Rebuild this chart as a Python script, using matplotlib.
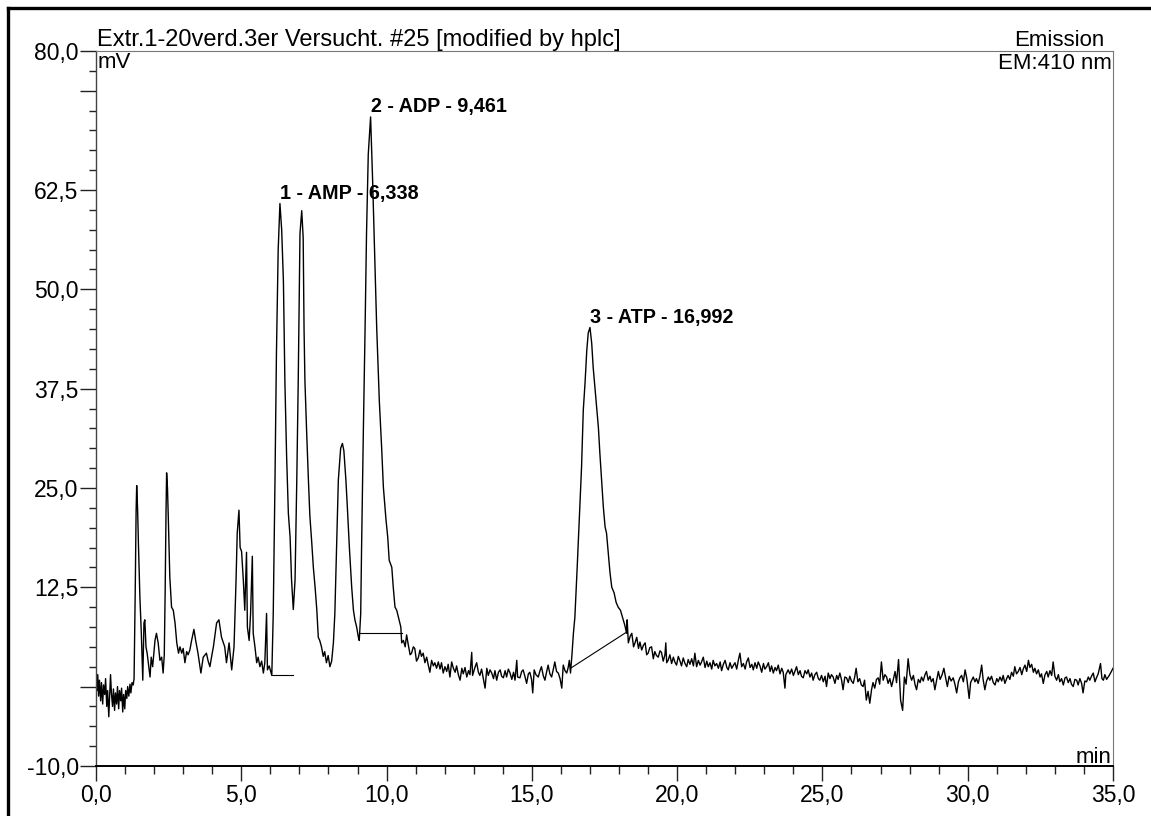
import matplotlib
matplotlib.use("Agg")
import matplotlib.pyplot as plt
from matplotlib.lines import Line2D
from matplotlib.ticker import FixedLocator, FixedFormatter, MultipleLocator

# ----------------------------
# Data
# ----------------------------

# (time [min], signal [mV]) per stretch of the trace
lead = [
    (0.00, 3.0), (0.03, -0.5), (0.06, 1.5), (0.09, -1.2), (0.12, 0.8), (0.16, -1.8),
    (0.19, 0.5), (0.23, -2.2), (0.26, 0.2), (0.30, -1.0), (0.33, 1.0), (0.37, -2.5),
    (0.40, -0.5), (0.44, -3.8), (0.47, -1.0), (0.50, 1.5), (0.53, -0.8), (0.57, -2.5),
    (0.60, -0.3), (0.64, -3.0), (0.67, -0.8), (0.71, -2.2), (0.74, 0.0), (0.78, -2.8),
    (0.81, -0.5), (0.85, -1.8), (0.88, -0.2), (0.92, -3.2), (0.95, -1.0), (0.99, -2.8),
    (1.02, -0.5), (1.06, -1.5), (1.09, 0.0), (1.13, -1.2), (1.17, 0.3), (1.20, -0.8),
    (1.24, 0.5), (1.28, 0.2), (1.31, 1.0),
]

early = [
    (1.35, 12.0), (1.38, 22.0), (1.40, 25.3), (1.43, 22.5), (1.46, 18.0), (1.51, 11.3),
    (1.56, 6.7), (1.61, 0.8), (1.65, 8.0), (1.68, 8.4), (1.72, 5.0), (1.76, 4.2),
    (1.80, 3.0), (1.86, 1.2), (1.90, 3.7), (1.95, 2.5), (2.00, 4.6), (2.03, 5.8),
    (2.08, 6.7), (2.14, 5.5), (2.20, 3.3), (2.26, 3.7), (2.31, 1.7), (2.35, 4.0),
    (2.38, 12.0), (2.41, 22.0), (2.43, 26.9), (2.46, 25.0), (2.49, 21.0), (2.54, 13.8),
    (2.60, 10.0), (2.66, 9.6), (2.72, 8.0), (2.78, 5.5), (2.84, 4.2), (2.89, 5.0),
    (2.95, 4.2), (3.00, 4.8), (3.06, 3.0), (3.12, 4.4), (3.17, 4.0), (3.23, 4.6),
    (3.29, 5.8), (3.37, 7.2), (3.43, 5.8), (3.51, 4.2), (3.61, 1.7), (3.69, 3.7),
    (3.80, 4.2), (3.86, 3.2), (3.92, 2.5), (3.98, 3.8), (4.04, 5.0), (4.15, 8.0),
    (4.23, 8.4), (4.32, 6.2), (4.43, 5.0), (4.49, 3.0), (4.58, 5.5), (4.67, 2.1),
    (4.75, 5.0), (4.82, 13.4), (4.86, 19.3), (4.92, 22.2), (4.96, 17.5), (5.01, 17.0),
    (5.07, 13.4), (5.12, 9.6), (5.18, 16.9), (5.21, 7.5), (5.27, 5.8), (5.32, 9.2),
    (5.38, 16.4), (5.41, 6.7), (5.47, 5.0), (5.53, 3.0), (5.58, 3.7), (5.64, 2.5),
    (5.70, 3.2), (5.76, 1.7), (5.81, 3.0), (5.87, 9.2), (5.90, 2.1), (5.96, 2.6),
    (6.05, 1.4),
]

amp_adp = [
    (6.10, 9.2), (6.16, 26.0), (6.21, 42.0), (6.27, 55.0), (6.33, 60.8), (6.39, 57.5),
    (6.45, 51.0), (6.50, 38.5), (6.56, 29.0), (6.62, 21.8), (6.68, 18.8), (6.73, 13.4),
    (6.79, 9.7), (6.85, 13.4), (6.91, 26.0), (6.96, 38.5), (7.02, 57.0), (7.08, 59.9),
    (7.13, 56.5), (7.16, 45.0), (7.19, 38.5), (7.25, 32.0), (7.31, 26.0), (7.36, 21.5),
    (7.42, 18.4), (7.48, 15.0), (7.54, 12.5), (7.60, 9.6), (7.65, 6.2), (7.70, 5.8),
    (7.76, 5.0), (7.82, 3.8), (7.87, 4.4), (7.93, 3.0), (7.99, 3.9), (8.05, 2.5),
    (8.11, 3.2), (8.17, 5.5), (8.22, 9.2), (8.28, 17.5), (8.34, 26.0), (8.42, 30.0),
    (8.48, 30.6), (8.53, 29.7), (8.60, 26.0), (8.65, 22.6), (8.72, 17.5), (8.80, 12.5),
    (8.86, 9.6), (8.91, 8.4), (8.97, 7.5), (9.03, 6.2), (9.06, 5.8), (9.11, 9.2),
    (9.14, 17.5), (9.20, 32.0), (9.26, 45.0), (9.31, 57.0), (9.37, 67.0), (9.45, 71.7),
    (9.52, 63.7), (9.60, 53.3), (9.66, 45.2), (9.75, 36.0), (9.83, 30.1), (9.89, 25.1),
    (9.98, 21.0), (10.04, 18.8), (10.09, 15.9), (10.18, 15.0), (10.23, 12.5), (10.29, 10.0),
    (10.35, 9.6), (10.41, 8.7), (10.49, 7.5), (10.52, 5.5), (10.58, 5.8), (10.64, 5.0),
    (10.69, 6.5), (10.75, 5.2), (10.81, 4.0), (10.86, 4.2), (10.92, 5.0), (10.97, 4.8),
]

mid = [
    (11.03, 3.2), (11.09, 3.6), (11.15, 4.6), (11.20, 3.8), (11.26, 4.2), (11.32, 3.0),
    (11.38, 3.7), (11.43, 2.8), (11.49, 1.8), (11.55, 3.3), (11.61, 2.6), (11.66, 3.0),
    (11.72, 2.3), (11.78, 3.1), (11.84, 2.2), (11.89, 3.0), (11.95, 1.7), (12.01, 2.5),
    (12.07, 1.9), (12.12, 2.8), (12.18, 1.2), (12.24, 3.1), (12.30, 2.3), (12.36, 1.8),
    (12.41, 2.6), (12.47, 1.5), (12.53, 0.8), (12.59, 2.3), (12.64, 1.6), (12.70, 2.4),
    (12.76, 1.2), (12.82, 2.0), (12.87, 1.5), (12.93, 4.3), (12.96, 1.4), (13.04, 2.4),
    (13.10, 3.0), (13.16, 1.8), (13.21, 1.4), (13.27, 2.2), (13.33, 1.0), (13.39, -0.2),
    (13.45, 2.3), (13.50, 1.4), (13.56, 2.1), (13.62, 1.7), (13.68, 1.0), (13.73, 2.0),
    (13.79, 0.8), (13.85, 1.8), (13.91, 2.1), (13.96, 1.3), (14.02, 1.1), (14.08, 2.0),
    (14.13, 1.2), (14.19, 2.2), (14.25, 1.7), (14.31, 0.9), (14.37, 1.8), (14.42, 0.8),
    (14.48, 3.3), (14.51, 1.2), (14.59, 1.1), (14.65, 1.9), (14.70, 2.1), (14.76, 1.3),
    (14.82, 0.4), (14.88, 1.6), (14.93, 1.8), (14.99, 0.9), (15.03, -0.8), (15.08, 2.1),
    (15.14, 1.5), (15.22, 1.2), (15.28, 2.0), (15.33, 2.5), (15.39, 1.4), (15.45, 0.8),
    (15.51, 1.9), (15.56, 2.7), (15.62, 1.6), (15.68, 1.2), (15.74, 2.2), (15.79, 3.1),
    (15.85, 1.9), (15.91, 1.7), (15.97, 1.0), (16.03, -0.2), (16.08, 2.7), (16.14, 2.0),
    (16.20, 1.7), (16.25, 2.4), (16.29, 3.3), (16.33, 1.7),
]

atp = [
    (16.38, 4.0), (16.43, 6.7), (16.48, 8.7), (16.56, 15.0), (16.66, 23.5), (16.71, 27.6),
    (16.77, 34.8), (16.83, 38.2), (16.89, 42.3), (16.94, 44.5), (17.00, 45.2), (17.06, 43.2),
    (17.11, 40.2), (17.21, 36.0), (17.29, 32.6), (17.34, 29.4), (17.40, 26.0), (17.46, 22.6),
    (17.52, 20.1), (17.57, 19.3), (17.63, 16.8), (17.69, 14.3), (17.75, 12.5), (17.83, 11.8),
    (17.90, 10.6), (17.97, 10.0), (18.05, 9.6), (18.12, 8.7), (18.20, 7.7), (18.26, 6.7),
    (18.28, 8.4), (18.32, 5.5), (18.38, 6.3), (18.44, 6.7), (18.50, 5.0), (18.55, 5.5),
    (18.61, 6.2), (18.67, 4.8), (18.72, 5.6), (18.78, 4.6), (18.84, 5.2), (18.90, 5.5),
    (18.95, 4.0), (19.00, 4.2), (19.06, 4.9), (19.12, 5.0), (19.18, 3.5), (19.23, 4.4),
    (19.29, 3.9), (19.35, 3.7), (19.41, 4.5), (19.46, 4.3), (19.52, 3.2), (19.58, 4.0),
    (19.61, 5.5), (19.64, 3.0), (19.69, 3.3), (19.75, 4.0), (19.81, 2.9), (19.87, 3.7),
    (19.92, 3.1), (19.98, 2.7),
]

tail = [
    (20.04, 3.8), (20.10, 3.2), (20.15, 2.6), (20.21, 3.6), (20.27, 2.9), (20.33, 2.5),
    (20.38, 3.4), (20.44, 2.8), (20.50, 3.5), (20.56, 2.6), (20.61, 4.2), (20.67, 2.5),
    (20.73, 3.3), (20.79, 2.7), (20.84, 3.1), (20.90, 3.7), (20.96, 2.4), (21.02, 3.2),
    (21.07, 2.5), (21.13, 3.0), (21.19, 2.2), (21.24, 3.3), (21.30, 2.6), (21.36, 2.9),
    (21.42, 2.3), (21.48, 3.1), (21.53, 2.0), (21.59, 2.8), (21.65, 3.3), (21.71, 2.4),
    (21.76, 2.1), (21.82, 3.0), (21.88, 2.3), (21.94, 2.7), (21.99, 3.0), (22.05, 2.2),
    (22.11, 3.4), (22.16, 4.2), (22.22, 2.5), (22.28, 2.9), (22.34, 2.2), (22.39, 3.1),
    (22.45, 3.6), (22.51, 2.4), (22.57, 2.8), (22.62, 2.1), (22.68, 3.0), (22.74, 2.3),
    (22.79, 3.1), (22.85, 2.6), (22.91, 1.8), (22.97, 2.9), (23.02, 2.2), (23.08, 2.5),
    (23.14, 3.0), (23.20, 1.9), (23.25, 2.6), (23.31, 1.7), (23.37, 2.4), (23.42, 2.0),
    (23.48, 2.7), (23.54, 1.6), (23.60, 2.3), (23.65, 1.8), (23.71, -0.2), (23.74, 1.5),
    (23.82, 2.1), (23.88, 1.6), (23.94, 2.2), (24.00, 1.4), (24.05, 1.9), (24.11, 2.5),
    (24.17, 1.5), (24.23, 2.0), (24.28, 1.3), (24.34, 1.1), (24.40, 2.0), (24.46, 1.6),
    (24.51, 2.1), (24.57, 1.2), (24.63, 1.7), (24.68, 0.8), (24.74, 1.5), (24.80, 1.8),
    (24.86, 1.0), (24.91, 0.8), (24.97, 1.4), (25.03, 0.6), (25.09, 1.3), (25.14, 0.0),
    (25.20, 1.7), (25.26, 1.0), (25.31, 1.5), (25.37, 1.2), (25.43, 0.4), (25.49, 1.4),
    (25.54, 0.9), (25.60, 1.7), (25.66, 0.8), (25.71, -0.4), (25.77, 1.2), (25.83, 1.1),
    (25.89, 0.5), (25.94, 1.3), (26.00, 0.7), (26.06, 0.4), (26.11, 1.2), (26.16, 2.3),
    (26.22, 0.6), (26.28, 1.0), (26.34, 0.2), (26.40, 0.0), (26.45, 0.8), (26.51, -1.7),
    (26.57, -0.6), (26.63, -2.1), (26.69, -0.4), (26.74, 0.5), (26.80, -0.2), (26.86, 0.9),
    (26.92, 1.1), (26.97, 0.3), (27.03, 3.1), (27.09, 0.8), (27.15, 1.5), (27.21, 1.2),
    (27.26, 0.4), (27.32, 1.0), (27.38, 0.0), (27.44, 0.9), (27.50, 1.9), (27.55, 0.5),
    (27.62, 3.4), (27.69, -1.7), (27.76, -3.0), (27.82, 1.2), (27.88, 0.3), (27.95, 3.5),
    (28.01, 1.5), (28.07, 0.8), (28.13, 1.4), (28.19, 0.2), (28.24, -0.4), (28.30, 0.9),
    (28.36, 0.5), (28.41, 1.2), (28.47, 0.7), (28.53, 1.5), (28.58, 1.9), (28.64, 0.8),
    (28.70, 1.3), (28.75, 0.6), (28.81, 1.0), (28.87, -0.4), (28.93, 0.8), (28.99, 1.9),
    (29.05, 0.9), (29.12, 1.5), (29.18, 2.3), (29.24, 1.1), (29.30, 0.0), (29.36, 1.3),
    (29.43, 0.7), (29.50, 1.1), (29.56, 0.3), (29.62, -0.8), (29.68, 0.6), (29.73, 1.1),
    (29.79, 1.4), (29.85, 0.6), (29.91, 2.1), (29.97, 1.0), (30.05, -1.5), (30.10, 0.5),
    (30.19, 1.2), (30.25, 0.6), (30.30, 1.0), (30.36, 0.4), (30.42, 1.3), (30.48, 2.7),
    (30.53, 0.9), (30.59, -0.4), (30.65, 0.7), (30.71, 1.2), (30.76, 0.8), (30.82, 1.3),
    (30.88, 0.5), (30.94, 0.2), (31.00, 1.0), (31.05, 0.6), (31.11, 1.2), (31.17, 0.7),
    (31.22, 1.4), (31.28, 0.4), (31.34, 1.0), (31.39, 1.4), (31.45, 0.9), (31.51, 1.8),
    (31.57, 1.3), (31.62, 2.5), (31.68, 1.6), (31.74, 1.9), (31.80, 2.4), (31.86, 1.5),
    (31.91, 2.2), (31.97, 2.7), (32.03, 1.9), (32.09, 3.3), (32.14, 2.4), (32.20, 2.8),
    (32.26, 1.8), (32.31, 2.3), (32.37, 1.6), (32.43, 2.1), (32.49, 1.2), (32.54, 1.6),
    (32.60, 0.4), (32.66, 1.5), (32.72, 1.9), (32.77, 1.2), (32.83, 2.0), (32.89, 1.4),
    (32.94, 3.1), (33.00, 1.3), (33.06, 0.8), (33.12, 1.5), (33.17, 0.6), (33.23, 1.0),
    (33.29, 0.2), (33.35, 1.1), (33.40, 1.2), (33.46, 0.5), (33.52, 1.0), (33.57, 0.3),
    (33.63, 0.0), (33.69, 0.9), (33.75, 0.8), (33.80, 0.2), (33.86, 1.0), (33.92, 0.4),
    (33.97, -0.8), (34.03, 0.7), (34.09, 0.6), (34.15, 1.2), (34.20, 0.8), (34.26, 1.3),
    (34.32, 1.7), (34.38, 0.6), (34.43, 1.1), (34.49, 1.6), (34.57, 2.9), (34.62, 1.0),
    (34.67, 0.8), (34.72, 1.5), (34.78, 0.9), (34.87, 1.4), (34.93, 1.8), (35.00, 2.3),
]

# identified peaks: label, retention time [min], apex height [mV]
peak_names = ["1 - AMP - 6,338", "2 - ADP - 9,461", "3 - ATP - 16,992"]
peak_rt = [6.33, 9.45, 17.00]
peak_height = [60.8, 71.7, 45.2]

# integration baselines: (t_start, mv_start, t_end, mv_end)
baselines = [
    (6.05, 1.5, 6.79, 1.5),
    (9.08, 6.7, 10.52, 6.7),
    (16.33, 2.3, 18.28, 6.9),
]

y_major = [-10, 0, 12.5, 25, 37.5, 50, 62.5, 75, 80]
y_labels = ["-10,0", "", "12,5", "25,0", "37,5", "50,0", "62,5", "", "80,0"]
x_major = [0, 5, 10, 15, 20, 25, 30, 35]
x_labels = ["0,0", "5,0", "10,0", "15,0", "20,0", "25,0", "30,0", "35,0"]

# ----------------------------
# Plot
# ----------------------------

plt.rcParams["font.family"] = ["Liberation Sans", "DejaVu Sans"]

trace = lead + early + amp_adp + mid + atp + tail
t = [p[0] for p in trace]
mv = [p[1] for p in trace]

fig = plt.figure(figsize=(11.51, 8.16), dpi=100)
ax = fig.add_axes([96 / 1151, 50 / 816, 1017 / 1151, 715 / 816])

ax.plot(t, mv, color="black", lw=1.0)

for t0, v0, t1, v1 in baselines:
    ax.plot([t0, t1], [v0, v1], color="black", lw=0.8)

for name, rt, h in zip(peak_names, peak_rt, peak_height):
    ax.annotate(name, (rt, h), xytext=(0, 3.5), textcoords="offset points",
                ha="left", va="baseline", fontsize=14.2, fontweight="bold")

ax.set_xlim(0, 35)
ax.set_ylim(-10, 80)

ax.xaxis.set_major_locator(FixedLocator(x_major))
ax.xaxis.set_major_formatter(FixedFormatter(x_labels))
ax.xaxis.set_minor_locator(MultipleLocator(1))
ax.yaxis.set_major_locator(FixedLocator(y_major))
ax.yaxis.set_major_formatter(FixedFormatter(y_labels))
ax.yaxis.set_minor_locator(MultipleLocator(2.5))

ax.tick_params(axis="both", which="both", direction="out", colors="#222222",
               labelcolor="black", labelsize=16.5)
ax.tick_params(axis="y", which="major", length=11.5, width=1.0, pad=1)
ax.tick_params(axis="y", which="minor", length=5, width=1.0)
ax.tick_params(axis="x", which="major", length=11, width=1.0, pad=2)
ax.tick_params(axis="x", which="minor", length=6, width=1.0)

ax.spines["bottom"].set_color("black")
ax.spines["bottom"].set_linewidth(1.4)
ax.spines["left"].set_color("#444444")
ax.spines["left"].set_linewidth(1.0)
for side in ["top", "right"]:
    ax.spines[side].set_color("#777777")
    ax.spines[side].set_linewidth(0.8)

ax.annotate("Extr.1-20verd.3er Versucht. #25 [modified by hplc]", (0, 1),
            xycoords="axes fraction", xytext=(1, 3.5), textcoords="offset points",
            ha="left", va="baseline", fontsize=17)
ax.annotate("Emission", (1, 1), xycoords="axes fraction", xytext=(-6, 3.5),
            textcoords="offset points", ha="right", va="baseline", fontsize=16)
ax.annotate("EM:410 nm", (1, 1), xycoords="axes fraction", xytext=(-1, -1.5),
            textcoords="offset points", ha="right", va="top", fontsize=16)
ax.annotate("mV", (0, 1), xycoords="axes fraction", xytext=(1, -1),
            textcoords="offset points", ha="left", va="top", fontsize=16)
ax.annotate("min", (1, 0), xycoords="axes fraction", xytext=(-1, 2),
            textcoords="offset points", ha="right", va="baseline", fontsize=16)

# outer frame of the printout
fig.add_artist(Line2D([8 / 1151, 8 / 1151], [0, 1 - 8 / 816],
                      transform=fig.transFigure, color="black", lw=2.4))
fig.add_artist(Line2D([8 / 1151, 1], [1 - 8 / 816, 1 - 8 / 816],
                      transform=fig.transFigure, color="black", lw=2.4))

fig.savefig("out.png", dpi=100)
